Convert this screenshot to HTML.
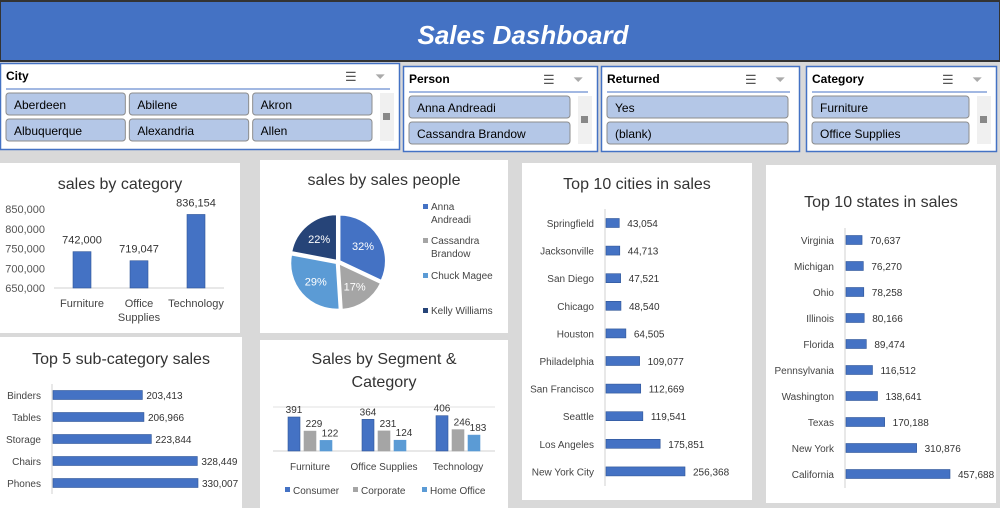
<!DOCTYPE html>
<html><head><meta charset="utf-8"><style>
body{margin:0;width:1000px;height:508px;overflow:hidden;background:#d9d9d9;font-family:"Liberation Sans",sans-serif}
svg{display:block}
</style></head><body>
<svg id="s" width="1000" height="508" xmlns="http://www.w3.org/2000/svg" font-family="Liberation Sans, sans-serif">
<rect x="0" y="0" width="1000" height="508" fill="#d9d9d9"/>
<g>
<rect x="0" y="1" width="1000" height="60" fill="#4472c4" stroke="#333" stroke-width="2"/>
<text x="523" y="44" text-anchor="middle" fill="#fff" font-size="26" font-weight="bold" font-style="italic">Sales Dashboard</text>
</g>
<g id="slicers"></g>
<g id="panels"></g>
<g id="charts"></g>
</svg>
<script>
const NS='http://www.w3.org/2000/svg';
const svg=document.getElementById('s');
function mk(tag,attrs,parent,txt){const e=document.createElementNS(NS,tag);for(const k in attrs)e.setAttribute(k,attrs[k]);if(txt!==undefined)e.textContent=txt;(parent||svg).appendChild(e);return e;}
function fmt(v){return v.toLocaleString('en-US');}

// ---- slicers ----
const slicerNames=['City','Person','Returned','Category'];
const slicerItems=[['Aberdeen','Abilene','Akron','Albuquerque','Alexandria','Allen'],['Anna Andreadi','Cassandra Brandow'],['Yes','(blank)'],['Furniture','Office Supplies']];
const slicerBox=[[0,63,400,87,3],[403,66,195,86,1],[601,66,199,86,1],[806,66,191,86,1]];
const sg=document.getElementById('slicers');
slicerNames.forEach((n,i)=>{
 const [x,y,w,h,cols]=slicerBox[i];
 const g=mk('g',{},sg);
 
 
 mk('rect',{x:x+0.5,y:y+0.5,width:w-1,height:h-1,fill:'#fff',stroke:'#4472c4','stroke-width':1.5},g);
 mk('text',{x:x+6,y:y+17,'font-size':12,'font-weight':'bold',fill:'#000'},g,n);
 mk('line',{x1:x+6,x2:x+w-10,y1:y+26,y2:y+26,stroke:'#4472c4','stroke-width':1},g);
 const ms=mk('text',{x:x+w-55,y:y+18,'font-size':13,fill:'#555'},g,'☰');
 
 const cf=mk('text',{x:x+w-25,y:y+18,'font-size':13,fill:'#aaa'},g,'⏷');
 
 const hasScroll=i!==2;
 const areaW=w-12-(hasScroll?22:6);
 const bw=(areaW-(cols-1)*4)/cols;
 slicerItems[i].forEach((it,j)=>{
  const c=j%cols,r=Math.floor(j/cols);
  const bx=x+6+c*(bw+4),by=y+30+r*26;
  const b=mk('g',{},g);
  
  
  mk('rect',{x:bx,y:by,width:bw,height:22,rx:3,fill:'#b4c7e7',stroke:'#8c8c8c','stroke-width':1},b);
  mk('text',{x:bx+8,y:by+16,'font-size':12,fill:'#000'},b,it);
 });
 if(hasScroll){
  const sb=mk('g',{},g);
  
  mk('rect',{x:x+w-20,y:y+30,width:14,height:48,fill:'#f0f0f0'},sb);
  mk('rect',{x:x+w-17,y:y+50,width:7,height:7,fill:'#888'},sb);
 }
});

// ---- panels ----
const pg=document.getElementById('panels');
const panelBox=[[0,163,240,170,'sales by category',184,'panel-sales-by-category'],[260,160,248,173,'sales by sales people',180,'panel-sales-people'],[0,337,242,171,'Top 5 sub-category sales',359,'panel-top5-subcategory'],[260,340,248,168,'Sales by Segment &',359,'panel-segment-category'],[522,163,230,337,'Top 10 cities in sales',184,'panel-top10-cities'],[766,165,230,338,'Top 10 states in sales',202,'panel-top10-states']];
panelBox.forEach(p=>{
 const r=mk('rect',{x:p[0],y:p[1],width:p[2],height:p[3],fill:'#fff'},pg);
 
 const t=mk('text',{x:p[0]+p[2]/2,y:p[5]+5,'text-anchor':'middle','font-size':16,fill:'#333'},pg,p[4]);
 
});
const t2=mk('text',{x:384,y:387,'text-anchor':'middle','font-size':16,fill:'#333'},pg,'Category');


const cg=document.getElementById('charts');
// ---- sales by category ----
const catNames=['Furniture','Office|Supplies','Technology'];
const catValues=[742000,719047,836154];
const catTicks=[650000,700000,750000,800000,850000];
(function(){
 const y=v=>288-(v-650000)*79/200000;
 const cx=i=>82+i*57;
 catTicks.forEach(t=>{const e=mk('text',{x:45,y:y(t)+4,'text-anchor':'end','font-size':11,fill:'#555'},cg,fmt(t));});
 mk('line',{x1:54,x2:224,y1:288,y2:288,stroke:'#d0d0d0'},cg);
 catValues.forEach((v,i)=>{
  const b=mk('rect',{x:cx(i)-9,y:y(v),width:18,height:288-y(v),fill:'#4472c4',stroke:'#2f5597','stroke-width':0.6},cg);
  
  const l=mk('text',{x:cx(i),y:y(v)-8,'text-anchor':'middle','font-size':11,fill:'#333'},cg,fmt(v));
  
  catNames[i].split('|').forEach((s,k)=>{const e=mk('text',{x:cx(i),y:307+k*14,'text-anchor':'middle','font-size':11,fill:'#444'},cg,s);});
 });
})();

// ---- pie ----
const pieNames=['Anna|Andreadi','Cassandra|Brandow','Chuck Magee','Kelly Williams'];
const pieValues=[32,17,29,22];
const pieColors=['#4472c4','#a5a5a5','#5b9bd5','#264478'];
(function(){
 const cx=338,cy=262,r=46;let a=-Math.PI/2;const tot=pieValues.reduce((s,v)=>s+v,0);
 pieValues.forEach((v,i)=>{
  const sw=v/tot*2*Math.PI,a2=a+sw,m=a+sw/2;
  const ox=Math.cos(m)*2,oy=Math.sin(m)*2;
  const x1=cx+ox+r*Math.cos(a),y1=cy+oy+r*Math.sin(a),x2=cx+ox+r*Math.cos(a2),y2=cy+oy+r*Math.sin(a2);
  const p=mk('path',{d:`M${cx+ox},${cy+oy}L${x1},${y1}A${r},${r} 0 ${sw>Math.PI?1:0} 1 ${x2},${y2}Z`,fill:pieColors[i],stroke:'#fff','stroke-width':1.5},cg);
  
  const l=mk('text',{x:cx+ox+Math.cos(m)*r*0.6,y:cy+oy+Math.sin(m)*r*0.6+4,'text-anchor':'middle','font-size':11,fill:'#fff'},cg,v+'%');
  
  a=a2;
 });
 const ly=[210,244,279,314];
 pieNames.forEach((n,i)=>{
  const g=mk('g',{},cg);
  mk('rect',{x:423,y:ly[i]-6,width:5,height:5,fill:pieColors[i]},g);
  n.split('|').forEach((s,k)=>mk('text',{x:431,y:ly[i]+k*13,'font-size':10,fill:'#444'},g,s));
 });
})();

// ---- horizontal bar helper ----
function hbar(names,values,ax,y0,step,maxV,maxW,topY,botY,fs,gap){
 mk('line',{x1:ax,x2:ax,y1:topY,y2:botY,stroke:'#d0d0d0'},cg);
 values.forEach((v,i)=>{
  const y=y0+i*step,w=v/maxV*maxW;
  const b=mk('rect',{x:ax+1,y:y-4.5,width:w,height:9,fill:'#4472c4',stroke:'#2f5597','stroke-width':0.6},cg);
  
  const l=mk('text',{x:ax+w+gap,y:y+4,'font-size':fs,fill:'#333'},cg,fmt(v));
  
  const n=mk('text',{x:ax-11,y:y+4,'text-anchor':'end','font-size':fs,fill:'#444'},cg,names[i]);
  
 });
}
const subNames=['Binders','Tables','Storage','Chairs','Phones'];
const subValues=[203413,206966,223844,328449,330007];
hbar(subNames,subValues,52,395,22,330007,145,384,494,10,5);
const cityNames=['Springfield','Jacksonville','San Diego','Chicago','Houston','Philadelphia','San Francisco','Seattle','Los Angeles','New York City'];
const cityValues=[43054,44713,47521,48540,64505,109077,112669,119541,175851,256368];
hbar(cityNames,cityValues,605,223,27.6,256368,79,209,486,10,9);
const stateNames=['Virginia','Michigan','Ohio','Illinois','Florida','Pennsylvania','Washington','Texas','New York','California'];
const stateValues=[70637,76270,78258,80166,89474,116512,138641,170188,310876,457688];
hbar(stateNames,stateValues,845,240,26,457688,104,228,488,10,9);

// ---- segment chart ----
const segCats=['Furniture','Office Supplies','Technology'];
const segNames=['Consumer','Corporate','Home Office'];
const segConsumer=[391,364,406];
const segCorporate=[229,231,246];
const segHome=[122,124,183];
const segColors=['#4472c4','#a5a5a5','#5b9bd5'];
(function(){
 const base=451,sc=34/391;
 mk('line',{x1:273,x2:495,y1:407,y2:407,stroke:'#e0e0e0'},cg);
 mk('line',{x1:273,x2:495,y1:451,y2:451,stroke:'#d0d0d0'},cg);
 const series=[segConsumer,segCorporate,segHome];
 segCats.forEach((c,i)=>{
  const gc=310+i*74;
  series.forEach((s,k)=>{
   const h=s[i]*sc,x=gc-22+k*16;
   const b=mk('rect',{x:x,y:base-h,width:12,height:h,fill:segColors[k],stroke:k==0?'#2f5597':segColors[k],'stroke-width':0.6},cg);
   
   const l=mk('text',{x:x+6+(k?4:0),y:base-h-4,'text-anchor':'middle','font-size':10,fill:'#333'},cg,s[i]);
   
  });
  const t=mk('text',{x:gc,y:470,'text-anchor':'middle','font-size':10,fill:'#444'},cg,c);
  
 });
 const lx=[285,353,422];
 segNames.forEach((n,k)=>{
  const g=mk('g',{},cg);
  mk('rect',{x:lx[k],y:487,width:5,height:5,fill:segColors[k]},g);
  mk('text',{x:lx[k]+8,y:494,'font-size':10,fill:'#444'},g,n);
 });
})();
</script>
</body></html>
